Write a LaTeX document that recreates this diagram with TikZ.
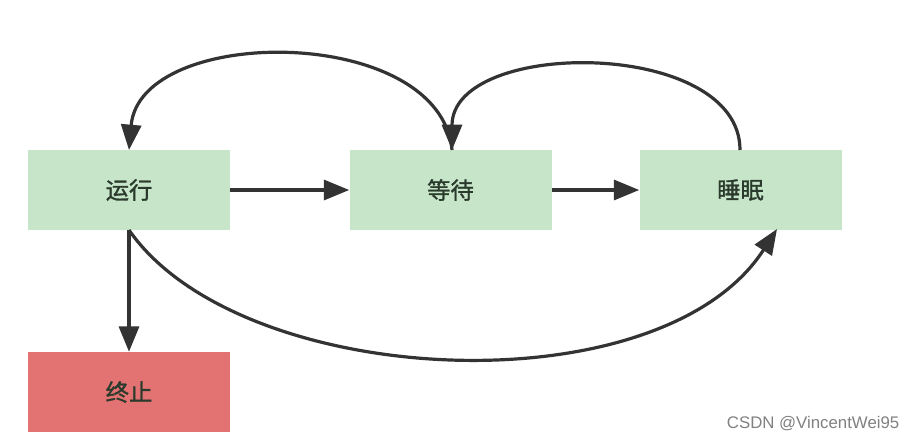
\documentclass[tikz,border=0pt]{standalone}
\usepackage{fontspec}
\usepackage{xcolor}
\usepackage{tikz}
\usetikzlibrary{arrows.meta}
\newfontfamily\cjk[FakeBold=1.2]{Noto Sans CJK SC}
\setsansfont{Liberation Sans}
\definecolor{livefill}{RGB}{199,229,201}
\definecolor{deadfill}{RGB}{227,114,114}
\definecolor{inkgray}{RGB}{51,51,51}
\definecolor{textink}{RGB}{42,58,44}

\begin{document}
\begin{tikzpicture}[
    x=0.75pt, y=-0.75pt,
    box/.style={inner sep=0pt, minimum width=151.5pt, minimum height=60pt, text=textink, font=\cjk\fontsize{17.5}{20}\selectfont},
    alive/.style={box, fill=livefill},
    dead/.style={box, fill=deadfill},
    arrow/.style={-{Triangle[length=19pt,width=15pt]}, line width=2.4pt, draw=inkgray}
]
\useasboundingbox (0,0) rectangle (916,440);

\node[alive] at (129,190) (run) {运行};
\node[alive] at (450.5,190) (wait) {等待};
\node[alive] at (740.5,190) (sleep) {睡眠};
\node[dead] at (129,392) (stop) {终止};

\coordinate (runtop) at (129,150);
\coordinate (runbot) at (129,230);
\coordinate (waittop) at (452,150);
\coordinate (sleeptop) at (740,150);
\coordinate (sleepcorner) at (777,229);

\draw[arrow] (run) -- (wait);
\draw[arrow] (wait.east) -- (sleep.west);
\draw[arrow] (runbot) -- (stop);
\draw[arrow] (waittop) .. controls (440,24) and (140,24) .. (runtop);
\draw[arrow] (sleeptop) .. controls (740,38) and (452,38) .. (waittop);
\draw[arrow] (runbot) .. controls (240,390) and (660,410) .. (sleepcorner);

\node[anchor=east, text=gray, font=\sffamily\fontsize{12.6}{14}\selectfont] at (904,424) (mark) {CSDN @VincentWei95};
\end{tikzpicture}
\end{document}
